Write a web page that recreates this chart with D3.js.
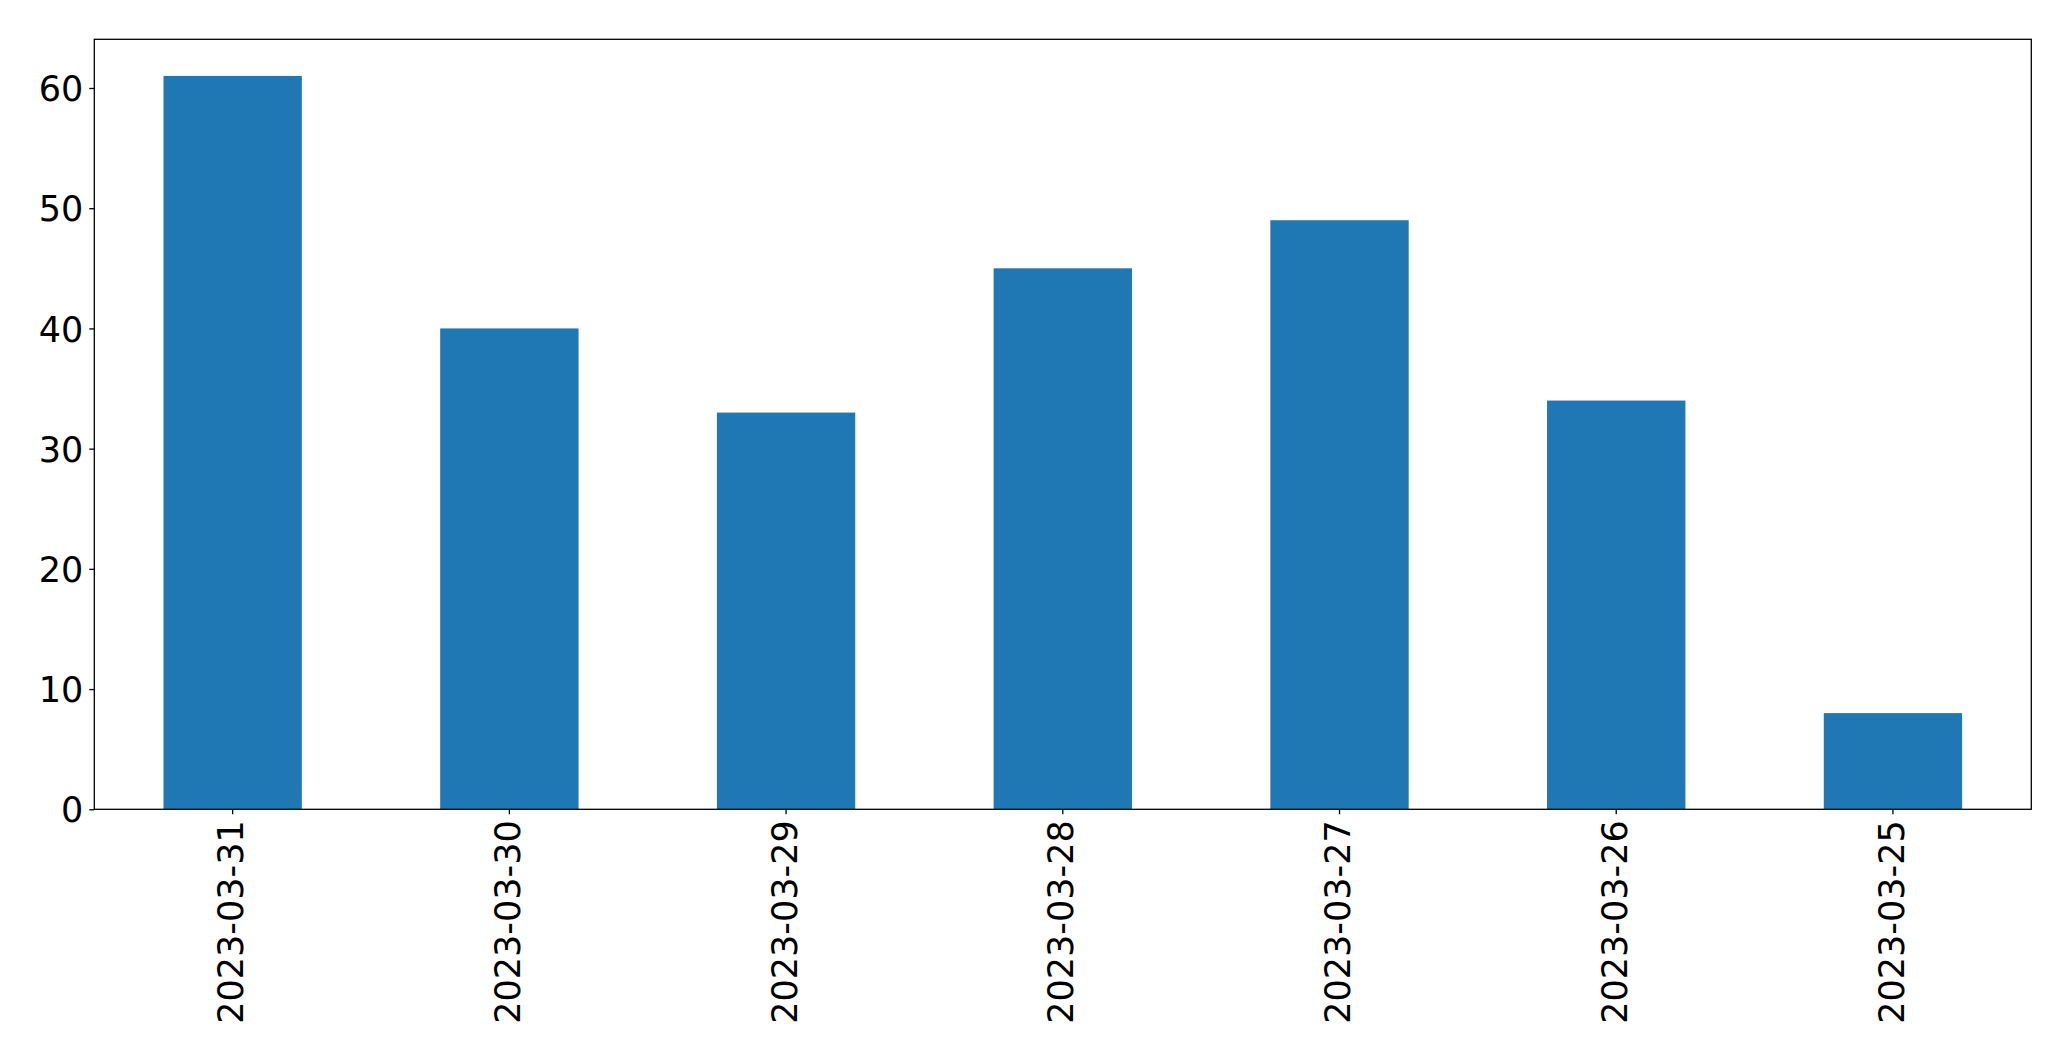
<!DOCTYPE html>
<html>
<head>
<meta charset="utf-8">
<script src="https://cdn.jsdelivr.net/npm/d3@7"></script>
<style>
  html, body { margin: 0; padding: 0; background: #fff; }
  svg { display: block; }
</style>
</head>
<body>
<svg id="chart" width="2071" height="1061"></svg>
<script>
const categories = ["2023-03-31", "2023-03-30", "2023-03-29", "2023-03-28", "2023-03-27", "2023-03-26", "2023-03-25"];
const values = [61, 40, 33, 45, 49, 34, 8];
const yTicks = [0, 10, 20, 30, 40, 50, 60];

const plotLeft = 94.3, plotRight = 2031.3, plotTop = 39.3, plotBottom = 809.3;
const svg = d3.select("#chart");

const x = d3.scaleBand().domain(categories).range([plotLeft, plotRight])
  .paddingInner(0.5).paddingOuter(0.25);
const yMax = d3.max(values) * 1.05;
const y = d3.scaleLinear().domain([0, yMax]).range([plotBottom, plotTop]);

svg.append("g").selectAll("rect").data(values).join("rect")
  .attr("x", (d, i) => x(categories[i]))
  .attr("width", x.bandwidth())
  .attr("y", d => y(d))
  .attr("height", d => y(0) - y(d))
  .attr("fill", "#1f77b4");

const font = "'DejaVu Sans', sans-serif";

const yAxis = svg.append("g").attr("transform", `translate(${plotLeft},0)`)
  .call(d3.axisLeft(y).tickValues(yTicks).tickSize(5).tickPadding(6).tickFormat(d3.format("d")));
yAxis.select(".domain").remove();
yAxis.selectAll("line").attr("stroke", "#000").attr("stroke-width", 1.3);
yAxis.selectAll("text").attr("font-family", font).attr("font-size", 35).attr("fill", "#000")
  .attr("dy", "0.36em");

const xAxis = svg.append("g").attr("transform", `translate(0,${plotBottom})`)
  .call(d3.axisBottom(x).tickSize(5).tickPadding(6));
xAxis.select(".domain").remove();
xAxis.selectAll("line").attr("stroke", "#000").attr("stroke-width", 1.3);
xAxis.selectAll("text").attr("font-family", font).attr("font-size", 35).attr("fill", "#000")
  .attr("transform", "rotate(-90)")
  .attr("x", -11).attr("y", -2).attr("dy", "0.36em")
  .style("text-anchor", "end");

svg.append("rect")
  .attr("x", plotLeft).attr("y", plotTop)
  .attr("width", plotRight - plotLeft).attr("height", plotBottom - plotTop)
  .attr("fill", "none").attr("stroke", "#000").attr("stroke-width", 1.3);
</script>
</body>
</html>
